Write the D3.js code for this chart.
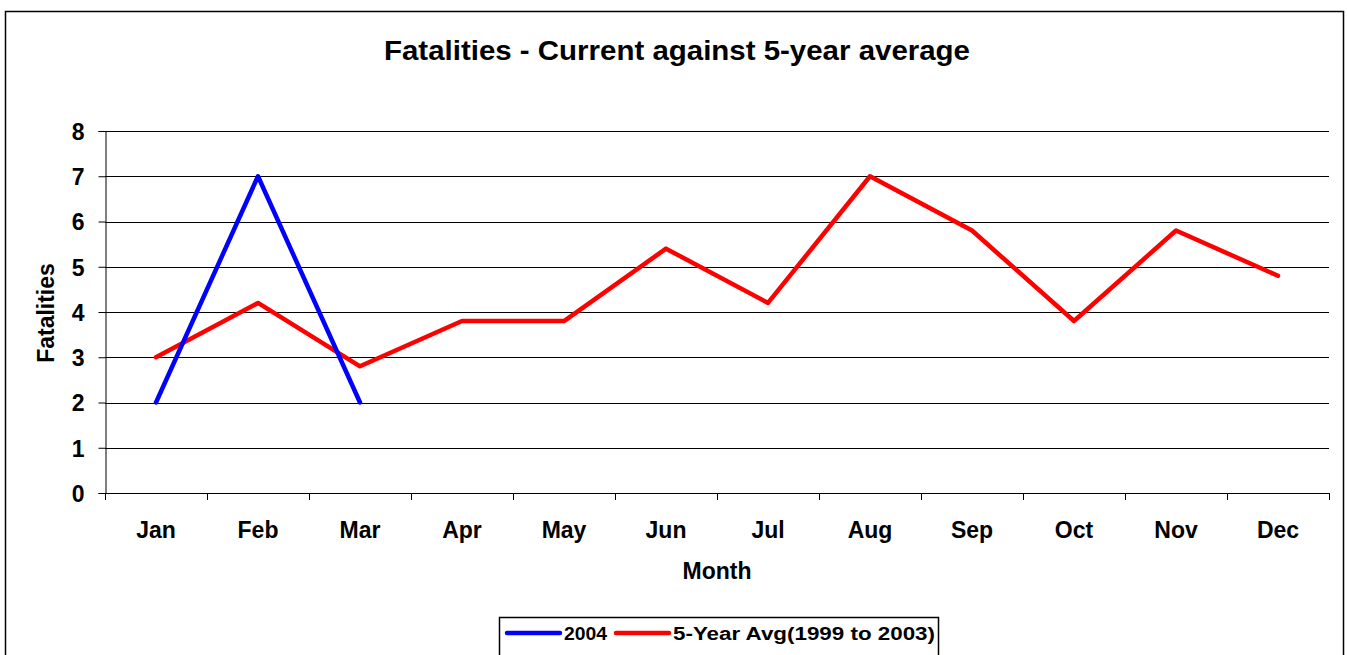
<!DOCTYPE html>
<html>
<head>
<meta charset="utf-8">
<script src="https://cdn.jsdelivr.net/npm/d3@7"></script>
<style>
  body { margin: 0; background: #fff; }
  svg text { font-family: "Liberation Sans", Arial, sans-serif; font-weight: bold; fill: #000; }
</style>
</head>
<body>
<div id="chart"></div>
<script>
// Data
const months = ["Jan", "Feb", "Mar", "Apr", "May", "Jun", "Jul", "Aug", "Sep", "Oct", "Nov", "Dec"];
const current2004 = [2, 7, 2];
const fiveYearAvg = [3, 4.2, 2.8, 3.8, 3.8, 5.4, 4.2, 7, 5.8, 3.8, 5.8, 4.8];
const yTicks = [0, 1, 2, 3, 4, 5, 6, 7, 8];

const W = 1348, H = 655;
const margin = { top: 131, right: 19, bottom: 162, left: 105 };
const width = W - margin.left - margin.right,
      height = H - margin.top - margin.bottom;

const svg = d3.select("#chart").append("svg")
    .attr("width", W)
    .attr("height", H);

// outer chart border
svg.append("rect")
    .attr("x", 5.5).attr("y", 11.5)
    .attr("width", 1338).attr("height", 660)
    .attr("fill", "none")
    .attr("stroke", "#000")
    .attr("stroke-width", 1.5);

// title
svg.append("text")
    .attr("x", 677).attr("y", 60)
    .attr("text-anchor", "middle")
    .attr("textLength", 586)
    .attr("lengthAdjust", "spacingAndGlyphs")
    .style("font-size", "28px")
    .text("Fatalities - Current against 5-year average");

const g = svg.append("g")
    .attr("transform", `translate(${margin.left},${margin.top})`);

const x = d3.scaleBand().domain(months).range([0, width]);
const y = d3.scaleLinear().domain([0, 8]).range([height, 0]);

// horizontal gridlines
g.selectAll(".grid")
    .data(yTicks.slice(1))
    .enter().append("line")
    .attr("x1", 0).attr("x2", width)
    .attr("y1", d => Math.round(y(d)) + 0.5)
    .attr("y2", d => Math.round(y(d)) + 0.5)
    .attr("stroke", "#000")
    .attr("stroke-width", 1);

// y axis
const yAxis = g.append("g")
    .attr("transform", "translate(0.5,0)")
    .call(d3.axisLeft(y).tickValues(yTicks).tickSize(7).tickPadding(14));
yAxis.selectAll("text").style("font-size", "23px").attr("dy", "0.36em");
yAxis.select(".domain").attr("stroke", "#000");

// x axis, ticks on category boundaries
const xAxis = g.append("g")
    .attr("transform", `translate(0,${Math.round(height) + 0.5})`)
    .call(d3.axisBottom(x).tickSize(0).tickPadding(28));
xAxis.selectAll("text").style("font-size", "23px");
xAxis.select(".domain").attr("d", `M0,0H${width}`);

g.selectAll(".xtick")
    .data(d3.range(months.length + 1))
    .enter().append("line")
    .attr("x1", i => Math.round(i * x.step()) + 0.5)
    .attr("x2", i => Math.round(i * x.step()) + 0.5)
    .attr("y1", height).attr("y2", height + 7)
    .attr("stroke", "#000");

// axis titles
svg.append("text")
    .attr("x", 717).attr("y", 579)
    .attr("text-anchor", "middle")
    .style("font-size", "23px")
    .text("Month");

svg.append("text")
    .attr("transform", "translate(54,313) rotate(-90)")
    .attr("text-anchor", "middle")
    .style("font-size", "23px")
    .text("Fatalities");

// lines
const line = d3.line()
    .x((d, i) => x(months[i]) + x.bandwidth() / 2)
    .y(d => y(d));

g.append("path")
    .datum(fiveYearAvg)
    .attr("d", line)
    .attr("fill", "none")
    .attr("stroke", "#ff0000")
    .attr("stroke-width", 4.5)
    .attr("stroke-linejoin", "round")
    .attr("stroke-linecap", "round");

g.append("path")
    .datum(current2004)
    .attr("d", line)
    .attr("fill", "none")
    .attr("stroke", "#0000ff")
    .attr("stroke-width", 4.5)
    .attr("stroke-linejoin", "round")
    .attr("stroke-linecap", "round");

// legend
const legend = svg.append("g");
legend.append("rect")
    .attr("x", 499.5).attr("y", 617.5)
    .attr("width", 439).attr("height", 60)
    .attr("fill", "#fff")
    .attr("stroke", "#000")
    .attr("stroke-width", 1.5);

const legendItems = [
    { label: "2004", color: "#0000ff", x: 507, len: 43 },
    { label: "5-Year Avg(1999 to 2003)", color: "#ff0000", x: 616, len: 262 }
];
legendItems.forEach(d => {
    legend.append("line")
        .attr("x1", d.x).attr("x2", d.x + 53)
        .attr("y1", 633).attr("y2", 633)
        .attr("stroke", d.color)
        .attr("stroke-width", 4.5)
        .attr("stroke-linecap", "round");
    legend.append("text")
        .attr("x", d.x + 57).attr("y", 640)
        .attr("textLength", d.len)
        .attr("lengthAdjust", "spacingAndGlyphs")
        .style("font-size", "18px")
        .text(d.label);
});
</script>
</body>
</html>
